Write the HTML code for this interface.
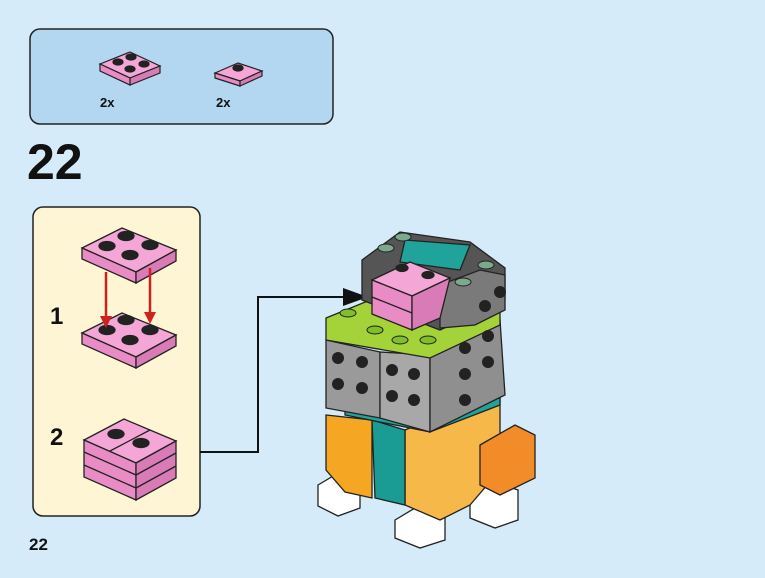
<!DOCTYPE html>
<html><head><meta charset="utf-8"><style>
html,body{margin:0;padding:0;background:#d6ebf9;}
svg{display:block;font-family:"Liberation Sans",sans-serif;}
</style></head><body>
<svg width="765" height="578" viewBox="0 0 765 578">
<rect width="765" height="578" fill="#d6ebf9"/>
<rect x="30" y="29" width="303" height="95" rx="10" fill="#b3d6f1" stroke="#222" stroke-width="1.5"/>
<g stroke="#222" stroke-width="1.2">
<polygon points="100,64 130,52 160,66 130,78" fill="#f4a6d6"/>
<polygon points="100,64 130,78 130,85 100,71" fill="#e98cc6"/>
<polygon points="130,78 160,66 160,73 130,85" fill="#d97bb6"/>
<ellipse cx="118" cy="62" rx="5" ry="3" fill="#222"/><ellipse cx="131" cy="57" rx="5" ry="3" fill="#222"/>
<ellipse cx="130" cy="69" rx="5" ry="3" fill="#222"/><ellipse cx="144" cy="64" rx="5" ry="3" fill="#222"/>
<polygon points="215,73 238,63 262,71 240,81" fill="#f4a6d6"/>
<polygon points="215,73 240,81 240,86 215,78" fill="#e98cc6"/>
<polygon points="240,81 262,71 262,76 240,86" fill="#d97bb6"/>
<ellipse cx="238" cy="68" rx="5" ry="3" fill="#222"/>
</g>
<text x="100" y="107" font-size="13" font-weight="bold" fill="#111">2x</text>
<text x="216" y="107" font-size="13" font-weight="bold" fill="#111">2x</text>
<text x="27" y="179" font-size="50" font-weight="bold" fill="#111">22</text>
<rect x="33" y="207" width="167" height="309" rx="10" fill="#fdf5d3" stroke="#222" stroke-width="1.5"/>
<text x="50" y="324" font-size="24" font-weight="bold" fill="#111">1</text>
<text x="50" y="445" font-size="24" font-weight="bold" fill="#111">2</text>
<g stroke="#222" stroke-width="1.3">
<polygon points="82,248 122,228 176,250 136,272" fill="#f4a6d6"/>
<polygon points="82,248 136,272 136,283 82,259" fill="#e98cc6"/>
<polygon points="136,272 176,250 176,261 136,283" fill="#d97bb6"/>
<ellipse cx="107" cy="246" rx="8" ry="4.5" fill="#222"/><ellipse cx="126" cy="236" rx="8" ry="4.5" fill="#222"/>
<ellipse cx="130" cy="255" rx="8" ry="4.5" fill="#222"/><ellipse cx="150" cy="245" rx="8" ry="4.5" fill="#222"/>
<polygon points="82,333 122,313 176,335 136,357" fill="#f4a6d6"/>
<polygon points="82,333 136,357 136,368 82,344" fill="#e98cc6"/>
<polygon points="136,357 176,335 176,346 136,368" fill="#d97bb6"/>
<ellipse cx="107" cy="330" rx="8" ry="4.5" fill="#222"/><ellipse cx="126" cy="320" rx="8" ry="4.5" fill="#222"/>
<ellipse cx="130" cy="340" rx="8" ry="4.5" fill="#222"/><ellipse cx="150" cy="330" rx="8" ry="4.5" fill="#222"/>
</g>
<g stroke="#d02020" stroke-width="2.5" fill="#d02020">
<line x1="106" y1="272" x2="106" y2="318"/><polygon points="100,316 112,316 106,328" stroke-width="0"/>
<line x1="150" y1="268" x2="150" y2="314"/><polygon points="144,312 156,312 150,324" stroke-width="0"/>
</g>
<g stroke="#222" stroke-width="1.3">
<polygon points="84,440 124,419 176,441 136,463" fill="#f4a6d6"/>
<polygon points="84,440 136,463 136,500 84,477" fill="#e98cc6"/>
<polygon points="136,463 176,441 176,478 136,500" fill="#d97bb6"/>
<line x1="84" y1="452" x2="136" y2="475"/><line x1="84" y1="465" x2="136" y2="488"/>
<line x1="136" y1="475" x2="176" y2="453"/><line x1="136" y1="488" x2="176" y2="466"/>
<line x1="110" y1="451" x2="150" y2="430"/>
<ellipse cx="116" cy="434" rx="8" ry="4.5" fill="#222"/><ellipse cx="141" cy="443" rx="8" ry="4.5" fill="#222"/>
</g>
<polyline points="200,452 258,452 258,297 345,297" fill="none" stroke="#111" stroke-width="2"/>
<polygon points="343,288 368,297 343,306" fill="#111"/>
<g stroke="#222" stroke-width="1.3">
<polygon points="318,485 340,472 360,482 360,508 338,516 318,506" fill="#fff"/>
<polygon points="395,520 420,505 445,515 445,540 420,548 395,538" fill="#fff"/>
<polygon points="470,495 495,482 518,490 518,520 495,528 470,518" fill="#fff"/>
<polygon points="326,415 372,420 372,498 345,492 326,470" fill="#f5a623"/>
<polygon points="405,430 500,390 500,470 470,505 440,520 405,505" fill="#f7b84a"/>
<polygon points="480,445 515,425 535,435 535,478 500,495 480,485" fill="#f28c28"/>
<polygon points="372,420 405,430 405,505 375,498" fill="#1a9b93"/>
<polygon points="345,405 390,410 420,398 500,380 500,405 430,432 345,415" fill="#1fa39a"/>
<polygon points="326,340 380,352 380,418 326,408" fill="#9a9a9a"/>
<polygon points="380,352 430,355 430,432 380,418" fill="#a8a8a8"/>
<polygon points="430,355 500,320 505,395 430,432" fill="#8f8f8f"/>
<polygon points="326,318 380,296 500,298 500,325 430,358 326,340" fill="#a3d239"/>
<polygon points="362,260 400,232 470,242 505,268 505,300 440,330 362,300" fill="#555"/>
<polygon points="405,240 470,245 460,270 400,262" fill="#1fa39a"/>
<polygon points="440,285 480,270 505,275 505,310 475,325 440,328" fill="#7a7a7a"/>
<polygon points="372,280 410,262 450,278 412,296" fill="#f4a6d6"/>
<polygon points="372,280 412,296 412,330 372,314" fill="#e98cc6"/>
<polygon points="412,296 450,278 440,318 412,330" fill="#d97bb6"/>
<line x1="372" y1="297" x2="412" y2="313"/>
<ellipse cx="402" cy="268" rx="6" ry="3.5" fill="#222"/><ellipse cx="428" cy="275" rx="6" ry="3.5" fill="#222"/>
</g>
<g fill="#222">
<circle cx="338" cy="358" r="6"/><circle cx="362" cy="362" r="6"/><circle cx="338" cy="384" r="6"/><circle cx="362" cy="388" r="6"/>
<circle cx="392" cy="370" r="6"/><circle cx="414" cy="374" r="6"/><circle cx="392" cy="396" r="6"/><circle cx="414" cy="400" r="6"/>
<circle cx="465" cy="348" r="6"/><circle cx="488" cy="336" r="6"/><circle cx="465" cy="374" r="6"/><circle cx="488" cy="362" r="6"/><circle cx="465" cy="400" r="6"/>
<circle cx="500" cy="292" r="6"/><circle cx="485" cy="306" r="6"/>
</g>
<g fill="#7fbf2a" stroke="#222" stroke-width="1">
<ellipse cx="348" cy="313" rx="8" ry="4"/><ellipse cx="375" cy="330" rx="8" ry="4"/><ellipse cx="400" cy="340" rx="8" ry="4"/><ellipse cx="428" cy="340" rx="8" ry="4"/>
</g>
<g fill="#7aa98c" stroke="#222" stroke-width="1">
<ellipse cx="386" cy="248" rx="8" ry="4"/><ellipse cx="403" cy="237" rx="8" ry="4"/><ellipse cx="486" cy="265" rx="8" ry="4"/><ellipse cx="463" cy="282" rx="8" ry="4"/>
</g>
<text x="29" y="550" font-size="17" font-weight="bold" fill="#111">22</text>
</svg>
</body></html>
